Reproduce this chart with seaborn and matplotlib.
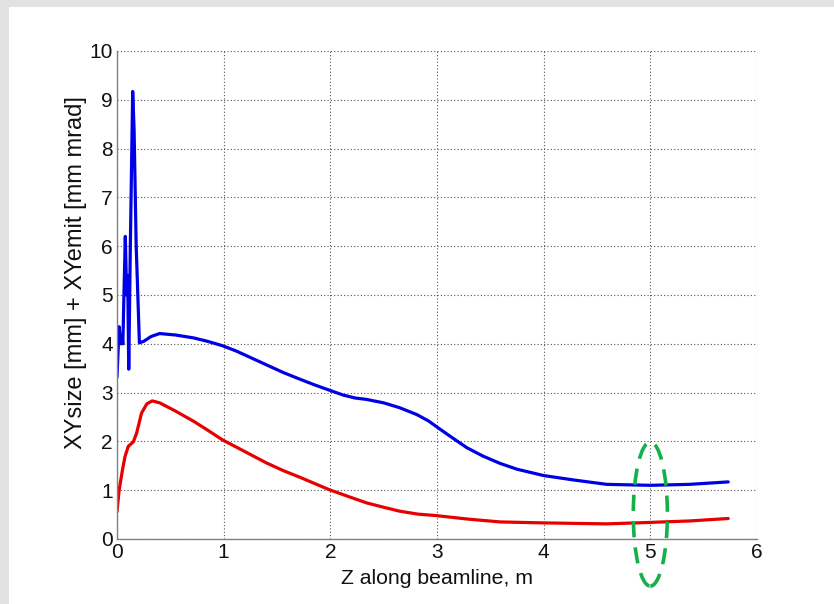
import matplotlib
matplotlib.use("Agg")
import matplotlib.pyplot as plt
import seaborn as sns
import pandas as pd
from matplotlib.patches import Ellipse, Rectangle

# ---- data ----
blue_z = [0.0, 0.02, 0.035, 0.045, 0.055, 0.065, 0.078, 0.09, 0.10, 0.11,
          0.125, 0.147, 0.16, 0.18, 0.21, 0.25, 0.32, 0.40, 0.55, 0.72, 0.85,
          0.99, 1.12, 1.25, 1.40, 1.56, 1.72, 1.85, 1.99, 2.12, 2.23, 2.34,
          2.50, 2.65, 2.81, 2.92, 2.99, 3.12, 3.28, 3.43, 3.59, 3.75, 4.0,
          4.28, 4.59, 5.0, 5.37, 5.73]
blue_y = [3.32, 4.35, 4.0, 4.15, 4.0, 5.0, 6.2, 5.0, 5.4, 3.48,
          6.0, 9.17, 8.4, 6.0, 4.02, 4.05, 4.15, 4.21, 4.18, 4.12, 4.05,
          3.96, 3.85, 3.72, 3.57, 3.41, 3.27, 3.16, 3.05, 2.95, 2.89, 2.86,
          2.79, 2.69, 2.55, 2.42, 2.31, 2.11, 1.87, 1.70, 1.55, 1.43, 1.30,
          1.21, 1.12, 1.10, 1.12, 1.17]

red_z = [0.0, 0.02, 0.05, 0.075, 0.106, 0.153, 0.184, 0.23, 0.28, 0.33, 0.40,
         0.55, 0.72, 0.85, 0.99, 1.20, 1.40, 1.56, 1.72, 1.99, 2.17, 2.34,
         2.50, 2.65, 2.82, 2.99, 3.28, 3.59, 4.0, 4.59, 5.0, 5.37, 5.73]
red_y = [0.56, 1.0, 1.4, 1.69, 1.9, 1.99, 2.17, 2.58, 2.77, 2.83, 2.79,
         2.62, 2.41, 2.23, 2.03, 1.79, 1.56, 1.40, 1.26, 1.01, 0.87, 0.74,
         0.65, 0.57, 0.51, 0.48, 0.41, 0.35, 0.33, 0.31, 0.34, 0.37, 0.42]

x_ticks = [0, 1, 2, 3, 4, 5, 6]
y_ticks = [0, 1, 2, 3, 4, 5, 6, 7, 8, 9, 10]
x_label = "Z along beamline, m"
y_label = "XYsize [mm] + XYemit [mm mrad]"

# highlight ellipse (data coords)
ell_center = (5.0, 0.51)
ell_w, ell_h = 0.32, 2.95

sns.set_style("white")
plt.rcParams['font.family'] = ['Liberation Sans', 'DejaVu Sans']

fig = plt.figure(figsize=(8.34, 6.04), dpi=100)
fig.patch.set_facecolor('#e2e2e2')
bg = Rectangle((9/834, 0), 1, 1 - 7/604, transform=fig.transFigure,
               facecolor='white', edgecolor='none', zorder=-10)
fig.add_artist(bg)

ax = fig.add_axes([117/834, 1 - 539/604, 640/834, 488/604])
ax.set_zorder(1)
ax.set_facecolor('white')

df_b = pd.DataFrame({"z": blue_z, "v": blue_y})
df_r = pd.DataFrame({"z": red_z, "v": red_y})
sns.lineplot(data=df_b, x="z", y="v", ax=ax, color='#0000e6', linewidth=2.3,
             sort=False, estimator=None)
sns.lineplot(data=df_r, x="z", y="v", ax=ax, color='#e60000', linewidth=2.3,
             sort=False, estimator=None)

ax.set_xlim(0, 6)
ax.set_ylim(0, 10)
ax.set_xticks(x_ticks)
ax.set_yticks(y_ticks)
ax.set_xticklabels([str(t) for t in x_ticks])
ax.set_yticklabels([str(t) for t in y_ticks])
ax.tick_params(direction='in', length=5, width=0.8, colors='#808080',
               labelcolor='#111111', labelsize=15, pad=3)
ax.grid(True, linestyle=(0, (1, 2)), color='#555555', linewidth=0.8)
for s in ['top', 'right']:
    ax.spines[s].set_visible(False)
for s in ['left', 'bottom']:
    ax.spines[s].set_color('#808080')
    ax.spines[s].set_linewidth(1.0)

ax.set_xlabel(x_label, fontsize=15.3, color='#111111', labelpad=5)
ax.set_ylabel(y_label, fontsize=17, color='#111111')
ax.yaxis.set_label_coords(-0.047, 0.547)

ell = Ellipse(ell_center, ell_w, ell_h, fill=False, edgecolor='#14b04a',
              linewidth=2.6, linestyle=(0, (4.5, 2.8)), clip_on=False, zorder=5)
ax.add_patch(ell)

fig.savefig("out.png", dpi=100, facecolor=fig.get_facecolor())
